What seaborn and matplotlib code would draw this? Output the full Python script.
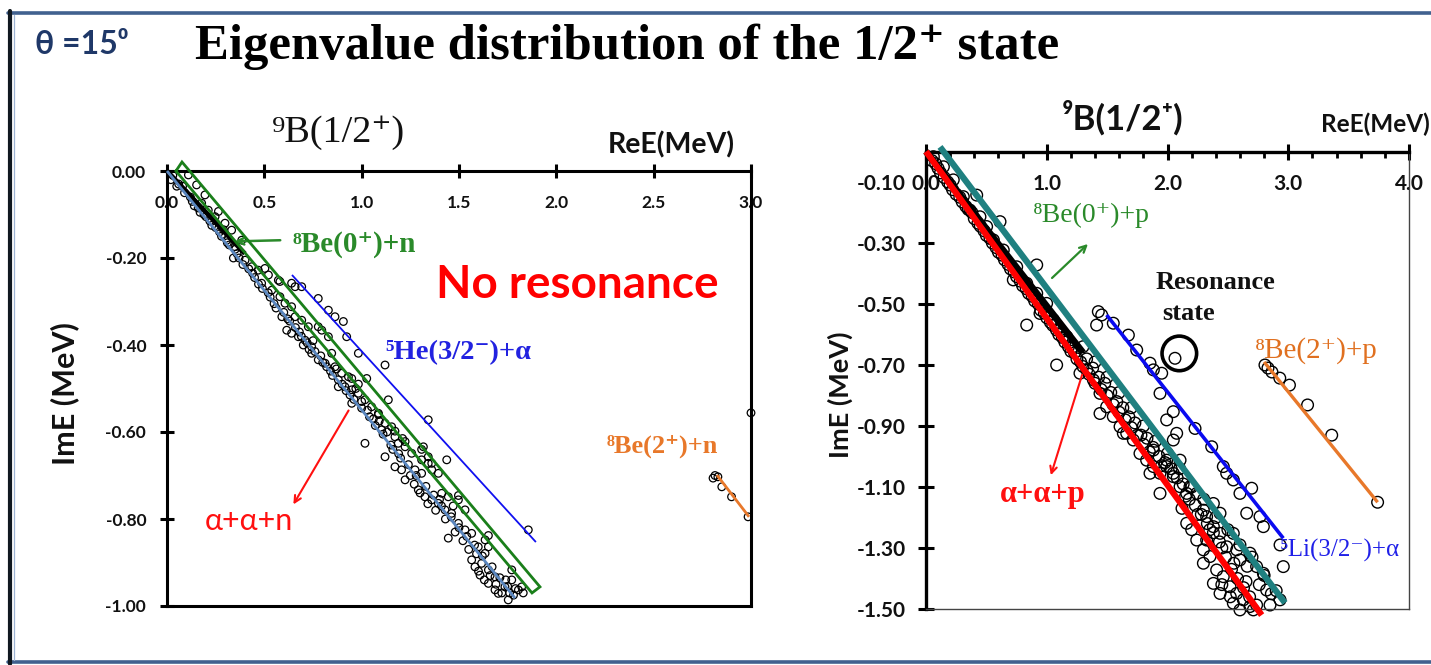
import matplotlib
matplotlib.use("Agg")
import matplotlib.pyplot as plt
import seaborn as sns
import pandas as pd
from matplotlib.lines import Line2D
from matplotlib.ticker import MultipleLocator, FixedLocator

sns.set_theme(style="white")
plt.rcParams['font.family'] = ['Lato', 'DejaVu Sans']
SERIF = ['Liberation Serif', 'DejaVu Serif']
SANS = ['Lato', 'DejaVu Sans']

# ---------------- data: left panel (9B 1/2+, no resonance) ----------------
left_xticks = [0.0, 0.5, 1.0, 1.5, 2.0, 2.5, 3.0]
left_xticklabels = ["0.0", "0.5", "1.0", "1.5", "2.0", "2.5", "3.0"]
left_yticks = [0.0, -0.2, -0.4, -0.6, -0.8, -1.0]
left_yticklabels = ["0.00", "-0.20", "-0.40", "-0.60", "-0.80", "-1.00"]

left_band_points = [
    (0.03, -0.01), (0.06, -0.03), (0.09, -0.05), (0.11, -0.009), (0.13, -0.07),
    (0.152, -0.032), (0.16, -0.085), (0.178, -0.074), (0.195, -0.055), (0.2, -0.105),
    (0.212, -0.09), (0.23, -0.125), (0.247, -0.105), (0.264, -0.093), (0.27, -0.14),
    (0.298, -0.12), (0.307, -0.159), (0.31, -0.165), (0.332, -0.136), (0.341, -0.2),
    (0.349, -0.174), (0.36, -0.19), (0.384, -0.159), (0.39, -0.215), (0.401, -0.205),
    (0.435, -0.22), (0.44, -0.235), (0.469, -0.228), (0.47, -0.26), (0.486, -0.258),
    (0.503, -0.224), (0.521, -0.239), (0.52, -0.28), (0.538, -0.274), (0.55, -0.305),
    (0.572, -0.251), (0.58, -0.289), (0.6, -0.325), (0.606, -0.304), (0.615, -0.366),
    (0.63, -0.345), (0.64, -0.312), (0.64, -0.373), (0.658, -0.335), (0.675, -0.381),
    (0.68, -0.37), (0.692, -0.343), (0.709, -0.389), (0.72, -0.395), (0.726, -0.358),
    (0.743, -0.404), (0.743, -0.419), (0.76, -0.415), (0.777, -0.358), (0.777, -0.434),
    (0.795, -0.366), (0.8, -0.44), (0.812, -0.442), (0.829, -0.381), (0.84, -0.46),
    (0.846, -0.419), (0.863, -0.45), (0.88, -0.48), (0.88, -0.496), (0.897, -0.465),
    (0.914, -0.496), (0.92, -0.505), (0.932, -0.473), (0.949, -0.503), (0.949, -0.534),
    (0.96, -0.525), (0.983, -0.511), (1.0, -0.545), (1.017, -0.526), (1.017, -0.626),
    (1.04, -0.565), (1.051, -0.542), (1.07, -0.585), (1.086, -0.557), (1.103, -0.595),
    (1.11, -0.605), (1.12, -0.58), (1.12, -0.657), (1.15, -0.63), (1.154, -0.588),
    (1.171, -0.611), (1.171, -0.68), (1.188, -0.626), (1.19, -0.65), (1.205, -0.687),
    (1.223, -0.634), (1.223, -0.71), (1.24, -0.675), (1.257, -0.649), (1.274, -0.687),
    (1.28, -0.7), (1.291, -0.733), (1.308, -0.664), (1.308, -0.695), (1.325, -0.749),
    (1.33, -0.725), (1.342, -0.672), (1.36, -0.687), (1.36, -0.756), (1.37, -0.745),
    (1.394, -0.764), (1.41, -0.77), (1.411, -0.741), (1.428, -0.779), (1.445, -0.749),
    (1.445, -0.844), (1.46, -0.795), (1.462, -0.787), (1.497, -0.756), (1.497, -0.81),
    (1.5, -0.82), (1.531, -0.825), (1.54, -0.84), (1.565, -0.833), (1.565, -0.894),
    (1.58, -0.86), (1.582, -0.91), (1.599, -0.864), (1.608, -0.929), (1.616, -0.902),
    (1.62, -0.885), (1.634, -0.848), (1.634, -0.879), (1.651, -0.864), (1.651, -0.917),
    (1.651, -0.948), (1.67, -0.91), (1.685, -0.933), (1.685, -0.963), (1.702, -0.971),
    (1.71, -0.935), (1.736, -0.956), (1.75, -0.955), (1.753, -0.986), (1.771, -0.94),
    (1.78, -0.975), (1.805, -0.963), (1.822, -0.956),
]
left_dense_points = [
    (0.02, -0.02), (0.05, -0.035), (0.08, -0.035), (0.12, -0.06), (0.14, -0.08),
    (0.17, -0.095), (0.19, -0.1), (0.22, -0.115), (0.25, -0.13), (0.28, -0.15),
    (0.29, -0.135), (0.32, -0.17), (0.35, -0.18), (0.37, -0.2), (0.42, -0.225),
    (0.45, -0.245), (0.49, -0.27), (0.53, -0.29), (0.56, -0.315), (0.59, -0.335),
    (0.62, -0.34), (0.66, -0.36), (0.69, -0.38), (0.7, -0.4), (0.73, -0.41),
    (0.75, -0.39), (0.79, -0.425), (0.82, -0.45), (0.85, -0.47), (0.87, -0.455),
    (0.9, -0.49), (0.94, -0.515), (0.97, -0.5), (1.0, -0.53), (1.03, -0.55),
    (1.06, -0.57), (1.09, -0.575), (1.13, -0.6), (1.16, -0.64), (1.2, -0.66),
    (1.21, -0.615), (1.25, -0.7), (1.27, -0.72), (1.3, -0.74), (1.34, -0.765),
    (1.38, -0.78), (1.4, -0.755), (1.43, -0.8), (1.47, -0.77), (1.48, -0.83),
    (1.52, -0.85), (1.55, -0.87), (1.59, -0.88), (1.6, -0.92), (1.63, -0.94),
    (1.66, -0.93), (1.69, -0.95), (1.72, -0.97), (1.74, -0.94), (1.76, -0.97),
    (1.79, -0.96), (1.83, -0.97),
]
left_between_points = [
    (0.58, -0.254), (0.949, -0.477), (0.983, -0.49), (1.086, -0.56), (1.171, -0.598),
    (1.223, -0.622), (1.308, -0.64), (1.342, -0.657), (1.36, -0.672), (1.394, -0.695),
    (1.497, -0.746), (1.531, -0.779), (1.651, -0.838), (1.771, -0.917),
]
left_he5_points = [
    (0.64, -0.258), (0.658, -0.266), (0.692, -0.266), (0.777, -0.293), (0.829, -0.32),
    (0.863, -0.335), (0.906, -0.346), (0.923, -0.381), (0.983, -0.419), (1.026, -0.477),
    (1.12, -0.446), (1.137, -0.526), (1.342, -0.572), (1.317, -0.634), (1.437, -0.664),
    (1.856, -0.825),
]
left_be2_points = [
    (2.805, -0.706), (2.815, -0.700), (2.83, -0.703), (2.85, -0.726), (2.90, -0.749),
    (2.985, -0.795), (3.0, -0.556),
]
left_aan_line_x = [0.0, 1.788]
left_aan_line_y = [0.0, -0.982]
left_black_line_x = [0.0, 0.40]
left_black_line_y = [0.0, -0.19]
left_he5_line_x = [0.642, 1.895]
left_he5_line_y = [-0.239, -0.853]
left_be2_line_x = [2.825, 2.99]
left_be2_line_y = [-0.699, -0.795]
left_be0_box_x = [0.046, 0.077, 1.916, 1.875, 0.046]
left_be0_box_y = [0.0, 0.0207, -0.956, -0.970, 0.0]

# ---------------- data: right panel (9B 1/2+, with resonance) ----------------
right_xticks = [0.0, 1.0, 2.0, 3.0, 4.0]
right_xticklabels = ["0.0", "1.0", "2.0", "3.0", "4.0"]
right_yticks = [-0.1, -0.3, -0.5, -0.7, -0.9, -1.1, -1.3, -1.5]
right_yticklabels = ["-0.10", "-0.30", "-0.50", "-0.70", "-0.90", "-1.10", "-1.30", "-1.50"]

right_band_points = [
    (0.05, -0.03), (0.061, -0.017), (0.1, -0.055), (0.144, -0.05), (0.15, -0.085),
    (0.2, -0.11), (0.226, -0.093), (0.25, -0.14), (0.3, -0.165), (0.309, -0.148),
    (0.35, -0.19), (0.364, -0.192), (0.4, -0.22), (0.42, -0.143), (0.447, -0.214),
    (0.45, -0.245), (0.5, -0.275), (0.502, -0.246), (0.55, -0.3), (0.558, -0.29),
    (0.6, -0.33), (0.613, -0.23), (0.64, -0.323), (0.65, -0.355), (0.7, -0.385),
    (0.723, -0.421), (0.75, -0.41), (0.751, -0.378), (0.8, -0.44), (0.834, -0.432),
    (0.834, -0.569), (0.85, -0.465), (0.9, -0.49), (0.917, -0.372), (0.917, -0.465),
    (0.944, -0.531), (0.95, -0.52), (0.999, -0.498), (1.0, -0.545), (1.05, -0.57),
    (1.055, -0.552), (1.082, -0.70), (1.1, -0.6), (1.11, -0.585), (1.15, -0.625),
    (1.165, -0.607), (1.2, -0.655), (1.22, -0.64), (1.25, -0.68), (1.275, -0.727),
    (1.3, -0.64), (1.3, -0.705), (1.331, -0.716), (1.35, -0.73), (1.386, -0.749),
    (1.4, -0.69), (1.4, -0.76), (1.441, -0.793), (1.441, -0.859), (1.45, -0.78),
    (1.496, -0.837), (1.5, -0.74), (1.5, -0.8), (1.55, -0.83), (1.551, -0.869),
    (1.6, -0.79), (1.6, -0.855), (1.607, -0.902), (1.634, -0.924), (1.65, -0.88),
    (1.662, -0.924), (1.7, -0.84), (1.7, -0.905), (1.717, -0.946), (1.75, -0.93),
    (1.772, -0.99), (1.8, -0.9), (1.8, -0.96), (1.827, -1.012), (1.85, -0.985),
    (1.855, -1.055), (1.883, -0.979), (1.883, -1.033), (1.9, -0.95), (1.938, -1.055),
    (1.938, -1.121), (1.95, -1.03), (1.993, -1.012), (1.993, -1.033), (2.0, -0.99),
    (2.048, -0.946), (2.048, -1.055), (2.048, -1.066), (2.1, -1.04), (2.104, -1.012),
    (2.104, -1.099), (2.15, -1.13), (2.159, -1.121), (2.159, -1.219), (2.186, -1.099),
    (2.2, -1.1), (2.242, -1.121), (2.242, -1.274), (2.25, -1.19), (2.297, -1.176),
    (2.297, -1.306), (2.297, -1.35), (2.3, -1.14), (2.324, -1.197), (2.324, -1.274),
    (2.35, -1.24), (2.352, -1.328), (2.38, -1.154), (2.38, -1.23), (2.38, -1.416),
    (2.4, -1.2), (2.407, -1.372), (2.435, -1.186), (2.435, -1.252), (2.435, -1.449),
    (2.45, -1.3), (2.462, -1.394), (2.49, -1.296), (2.5, -1.24), (2.518, -1.427),
    (2.545, -1.252), (2.545, -1.481), (2.55, -1.35), (2.573, -1.306), (2.573, -1.449),
    (2.6, -1.29), (2.6, -1.339), (2.6, -1.503), (2.628, -1.47), (2.65, -1.41),
    (2.683, -1.317), (2.683, -1.492), (2.7, -1.33), (2.711, -1.503), (2.738, -1.361),
    (2.738, -1.487), (2.794, -1.383), (2.8, -1.39), (2.821, -1.438), (2.849, -1.487),
    (2.9, -1.44), (2.932, -1.47), (2.959, -1.361),
]
right_dense_points = [
    (0.08, -0.04), (0.12, -0.07), (0.18, -0.1), (0.22, -0.125), (0.28, -0.15),
    (0.33, -0.18), (0.38, -0.2), (0.43, -0.235), (0.48, -0.26), (0.53, -0.285),
    (0.58, -0.315), (0.63, -0.34), (0.68, -0.37), (0.73, -0.395), (0.78, -0.425),
    (0.83, -0.45), (0.88, -0.475), (0.93, -0.5), (0.98, -0.53), (1.03, -0.56),
    (1.08, -0.585), (1.13, -0.61), (1.18, -0.64), (1.23, -0.66), (1.28, -0.69),
    (1.33, -0.68), (1.38, -0.71), (1.43, -0.74), (1.48, -0.76), (1.53, -0.79),
    (1.58, -0.82), (1.63, -0.84), (1.68, -0.87), (1.73, -0.89), (1.78, -0.93),
    (1.83, -0.94), (1.88, -0.97), (1.93, -1.0), (1.98, -1.02), (2.03, -1.04),
    (2.08, -1.07), (2.13, -1.09), (2.18, -1.14), (2.23, -1.16), (2.28, -1.19),
    (2.33, -1.22), (2.38, -1.25), (2.43, -1.28), (2.48, -1.33), (2.53, -1.37),
    (2.58, -1.4), (2.63, -1.43), (2.68, -1.46), (2.76, -1.42), (2.86, -1.45),
    (2.45, -1.42), (2.52, -1.46), (2.66, -1.36), (2.2, -1.24), (2.12, -1.17),
]
right_li5_points = [
    (1.427, -0.525), (1.455, -0.536), (1.551, -0.563), (1.413, -0.569), (1.676, -0.602),
    (1.745, -0.651), (1.855, -0.694), (1.883, -0.716), (1.952, -0.727), (1.938, -0.793),
    (2.048, -0.853), (1.993, -0.88), (2.076, -0.924), (2.228, -0.908), (2.366, -0.968),
    (2.462, -1.033), (2.49, -1.055), (2.545, -1.077), (2.6, -1.121), (2.697, -1.104),
    (2.656, -1.186), (2.766, -1.197), (2.794, -1.23), (2.932, -1.29),
]
right_be2_points = [
    (2.807, -0.70), (2.832, -0.71), (2.865, -0.723), (2.93, -0.743), (3.01, -0.766),
    (3.16, -0.831), (3.36, -0.93), (3.74, -1.15),
]
resonance_marker_x = [2.098]
resonance_marker_y = [-0.662]
resonance_point = [(2.062, -0.678)]

right_aap_line_x = [0.0, 2.78]
right_aap_line_y = [0.0, -1.52]
right_black_line_x = [0.0, 1.30]
right_black_line_y = [0.0, -0.66]
right_be0_line_x = [0.116, 2.973]
right_be0_line_y = [0.015, -1.48]
right_li5_line_x = [1.496, 2.959]
right_li5_line_y = [-0.536, -1.268]
right_be2_line_x = [2.80, 3.74]
right_be2_line_y = [-0.69, -1.15]

# ---------------- figure ----------------
W, H = 1431, 665
fig = plt.figure(figsize=(W / 100, H / 100), dpi=100)
fig.patch.set_facecolor("white")

def fx(px):
    return px / W

def fy(py):
    return 1 - py / H

ax1 = fig.add_axes([fx(167), fy(606), (751 - 167) / W, (606 - 171) / H])
ax2 = fig.add_axes([fx(926), fy(609), (1409 - 926) / W, (609 - 151.5) / H])

def pts_df(pts):
    return pd.DataFrame(pts, columns=["x", "y"])

def scatter(ax, pts, s, lw):
    d = pts_df(pts)
    sns.scatterplot(data=d, x="x", y="y", ax=ax, marker="o", s=s,
                    facecolor="none", edgecolor="black", linewidth=lw,
                    legend=False, zorder=2, clip_on=False)

def line(ax, xs, ys, color, lw, z=3):
    d = pd.DataFrame({"x": xs, "y": ys})
    sns.lineplot(data=d, x="x", y="y", ax=ax, color=color, linewidth=lw,
                 sort=False, estimator=None, zorder=z, clip_on=False,
                 solid_capstyle="butt")

# ---- left panel ----
for p in (left_band_points, left_dense_points, left_between_points,
          left_he5_points, left_be2_points):
    scatter(ax1, p, 30, 0.9)
line(ax1, left_black_line_x, left_black_line_y, "black", 3.4)
line(ax1, left_aan_line_x, left_aan_line_y, "#5A86BE", 2.0)
line(ax1, left_he5_line_x, left_he5_line_y, "#1010F0", 1.3)
line(ax1, left_be2_line_x, left_be2_line_y, "#E8782A", 2.0)
ax1.plot(left_be0_box_x, left_be0_box_y, color="#1A7F1A", lw=2.0, zorder=4,
         clip_on=False, solid_joinstyle="miter")

ax1.set_xlim(0, 3)
ax1.set_ylim(-1, 0)
ax1.xaxis.set_major_locator(FixedLocator(left_xticks))
ax1.set_xticklabels(left_xticklabels)
ax1.yaxis.set_major_locator(FixedLocator(left_yticks))
ax1.set_yticklabels(left_yticklabels)
ax1.tick_params(axis="x", which="major", direction="inout", length=10, width=2.2,
                color="black", top=True, bottom=False, labeltop=True,
                labelbottom=False, pad=-34, labelsize=12.5)
ax1.tick_params(axis="y", which="major", direction="inout", length=10, width=2.2,
                color="black", left=True, pad=10, labelsize=12.5)
for lab in ax1.get_xticklabels() + ax1.get_yticklabels():
    lab.set_fontweight("bold")
    lab.set_color("#111111")
for sp in ax1.spines.values():
    sp.set_color("black")
    sp.set_linewidth(2.2)
ax1.set_xlabel("ReE(MeV)", fontsize=20.5, fontweight="bold", color="#111111")
ax1.xaxis.set_label_coords((671 - 167) / 584, (606 - 145) / 435)
ax1.xaxis.label.set_verticalalignment("center")
ax1.set_ylabel("ImE (MeV)", fontsize=22, fontweight="bold", color="#111111")
ax1.yaxis.set_label_coords((65 - 167) / 584, (606 - 394) / 435)
ax1.yaxis.label.set_verticalalignment("center")

ax1.text(0.647, -0.168, "⁸Be(0⁺)+n", family=SERIF, fontsize=21, fontweight="bold",
         color="#2A8A2A", ha="left", va="center")
ax1.annotate("", xy=(0.334, -0.162), xytext=(0.596, -0.159),
             arrowprops=dict(arrowstyle="->", color="#2A8A2A", lw=1.8))
ax1.text(1.12, -0.418, "⁵He(3/2⁻)+α", family=SERIF, fontsize=20.5, fontweight="bold",
         color="#2222E0", ha="left", va="center")
ax1.text(0.195, -0.805, "α+α+n", family=SANS, fontsize=22, color="#FF1010",
         ha="left", va="center")
ax1.annotate("", xy=(0.642, -0.772), xytext=(0.94, -0.545),
             arrowprops=dict(arrowstyle="->", color="#FF1010", lw=1.5))
ax1.text(2.106, -0.262, "No resonance", family=SANS, fontsize=33, fontweight="bold",
         color="#FF0000", ha="center", va="center")
ax1.text(2.26, -0.632, "⁸Be(2⁺)+n", family=SERIF, fontsize=19, fontweight="bold",
         color="#E8782A", ha="left", va="center")

# ---- right panel ----
for p in (right_band_points, right_dense_points, right_li5_points,
          right_be2_points, resonance_point):
    scatter(ax2, p, 70, 1.0)
sns.scatterplot(x=resonance_marker_x, y=resonance_marker_y, ax=ax2, marker="o",
                s=620, facecolor="none", edgecolor="black", linewidth=2.6,
                legend=False, zorder=5)
line(ax2, right_black_line_x, right_black_line_y, "black", 5.0)
line(ax2, right_aap_line_x, right_aap_line_y, "#FF0000", 4.5, z=4)
line(ax2, right_be0_line_x, right_be0_line_y, "#1F8080", 4.5, z=4)
line(ax2, right_li5_line_x, right_li5_line_y, "#0A0AF0", 2.6)
line(ax2, right_be2_line_x, right_be2_line_y, "#E8782A", 2.4)

ax2.set_xlim(0, 4)
ax2.set_ylim(-1.5, 0)
ax2.xaxis.set_major_locator(FixedLocator(right_xticks))
ax2.set_xticklabels(right_xticklabels)
ax2.xaxis.set_minor_locator(MultipleLocator(0.2))
ax2.yaxis.set_major_locator(FixedLocator(right_yticks))
ax2.set_yticklabels(right_yticklabels)
ax2.tick_params(axis="x", which="major", direction="inout", length=11, width=2.2,
                color="black", top=True, bottom=False, labeltop=True,
                labelbottom=False, pad=-36, labelsize=15)
ax2.tick_params(axis="x", which="minor", direction="in", length=4.5, width=2.0,
                color="black", top=True, bottom=False)
ax2.tick_params(axis="y", which="major", direction="inout", length=11, width=2.2,
                color="black", left=True, pad=9, labelsize=15)
ax2.yaxis.get_major_ticks()[0].tick1line.set_visible(False)
for lab in ax2.get_xticklabels() + ax2.get_yticklabels():
    lab.set_fontweight("bold")
    lab.set_color("#111111")
for name, sp in ax2.spines.items():
    if name in ("top", "left"):
        sp.set_color("black")
        sp.set_linewidth(2.4)
    else:
        sp.set_color("#444444")
        sp.set_linewidth(1.0)
ax2.set_xlabel("ReE(MeV)", fontsize=17.5, fontweight="bold", color="#111111")
ax2.xaxis.set_label_coords((1375 - 926) / 483, (609 - 124) / 457.5)
ax2.xaxis.label.set_verticalalignment("center")
ax2.set_ylabel("ImE (MeV)", fontsize=19.5, fontweight="bold", color="#111111")
ax2.yaxis.set_label_coords((840 - 926) / 483, (609 - 395) / 457.5)
ax2.yaxis.label.set_verticalalignment("center")

ax2.text(0.886, -0.208, "⁸Be(0⁺)+p", family=SERIF, fontsize=20, color="#2A8A2A",
         ha="left", va="center")
ax2.annotate("", xy=(1.358, -0.297), xytext=(1.027, -0.421),
             arrowprops=dict(arrowstyle="->", color="#2A8A2A", lw=1.6))
ax2.text(1.897, -0.431, "Resonance", family=SERIF, fontsize=19, fontweight="bold",
         color="#111111", ha="left", va="center")
ax2.text(1.954, -0.53, "state", family=SERIF, fontsize=19, fontweight="bold",
         color="#111111", ha="left", va="center")
ax2.text(2.725, -0.651, "⁸Be(2⁺)+p", family=SERIF, fontsize=21, color="#E07020",
         ha="left", va="center")
ax2.text(2.932, -1.307, "⁵Li(3/2⁻)+α", family=SERIF, fontsize=18, color="#2020E8",
         ha="left", va="center")
ax2.text(0.613, -1.126, "α+α+p", family=SERIF, fontsize=22, fontweight="bold",
         color="#FF1010", ha="left", va="center")
ax2.annotate("", xy=(1.027, -1.07), xytext=(1.30, -0.723),
             arrowprops=dict(arrowstyle="->", color="#FF1010", lw=1.5))

# ---- figure-level texts ----
fig.text(fx(35), fy(45), "θ =15⁰", family=SANS, fontsize=23, fontweight="bold",
         color="#1F3868", ha="left", va="center")
fig.text(fx(195), fy(47), "Eigenvalue distribution of the 1/2⁺ state", family=SERIF,
         fontsize=36.5, fontweight="bold", color="black", ha="left", va="center")
fig.text(fx(338), fy(133), "⁹B(1/2⁺)", family=SERIF, fontsize=27.5, color="#111111",
         ha="center", va="center")
fig.text(fx(1123), fy(118), "⁹B(1/2⁺)", family=SANS, fontsize=25, fontweight="bold",
         color="#111111", ha="center", va="center")

# ---- slide frame ----
fig.add_artist(Line2D([fx(8), 1.0], [fy(13), fy(13)], color="#41618F", lw=2.6))
fig.add_artist(Line2D([fx(8), 1.0], [fy(662), fy(662)], color="#41618F", lw=2.6))
fig.add_artist(Line2D([fx(10), fx(10)], [fy(11), fy(664)], color="#101820", lw=3.0))
fig.add_artist(Line2D([fx(13.5), fx(13.5)], [fy(15), fy(660)], color="#9DB3D3", lw=0.9))

fig.savefig("out.png", dpi=100, facecolor="white")
